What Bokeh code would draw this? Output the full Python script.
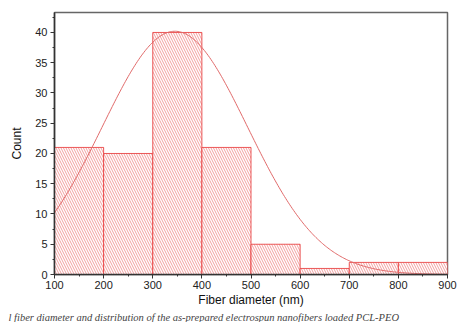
import numpy as np
from bokeh.plotting import figure
from bokeh.models import Range1d, SingleIntervalTicker, Title
from bokeh.embed import file_html
from bokeh.resources import INLINE

# Histogram data
bin_left = [100, 200, 300, 400, 500, 600, 700, 800]
bin_right = [200, 300, 400, 500, 600, 700, 800, 900]
counts = [21, 20, 40, 21, 5, 1, 2, 2]

# Gaussian fit parameters
fit_mean = 345
fit_sigma = 148
fit_amp = 40.2

caption = "l fiber diameter and distribution of the as-prepared electrospun nanofibers loaded PCL-PEO"

p = figure(width=466, height=322, output_backend="svg", toolbar_location=None,
           x_range=Range1d(100, 900), y_range=Range1d(0, 43.3),
           min_border_left=54, min_border_right=19, min_border_top=12, min_border_bottom=0)

p.quad(left=bin_left, right=bin_right, bottom=0, top=counts,
       fill_color="white", line_color="#e83c3c", line_width=1, line_alpha=0.85,
       hatch_pattern="\\", hatch_color="#e85050", hatch_alpha=0.55,
       hatch_scale=5, hatch_weight=1)

xs = np.linspace(100, 900, 300)
ys = fit_amp * np.exp(-(xs - fit_mean) ** 2 / (2 * fit_sigma ** 2))
p.line(xs, ys, line_color="#e06a6a", line_width=1)

p.grid.visible = False
p.outline_line_color = "#666666"
p.outline_line_width = 1.5

p.xaxis.ticker = SingleIntervalTicker(interval=100, num_minor_ticks=2)
p.yaxis.ticker = SingleIntervalTicker(interval=5, num_minor_ticks=2)

for ax in (p.xaxis[0], p.yaxis[0]):
    ax.axis_line_color = "#333333"
    ax.axis_line_width = 1.5
    ax.major_tick_line_color = "#333333"
    ax.minor_tick_line_color = "#333333"
    ax.major_tick_out = 4
    ax.major_tick_in = 0
    ax.minor_tick_out = 2
    ax.minor_tick_in = 0
    ax.major_label_text_font = "Liberation Sans"
    ax.major_label_text_font_size = "11px"
    ax.major_label_text_color = "#222222"
    ax.axis_label_text_font = "Liberation Sans"
    ax.axis_label_text_font_size = "12px"
    ax.axis_label_text_font_style = "normal"
    ax.axis_label_text_color = "#111111"

p.xaxis.major_label_standoff = 2
p.yaxis.major_label_standoff = 3
p.xaxis.axis_label = "Fiber diameter (nm)"
p.yaxis.axis_label = "Count"
p.xaxis.axis_label_standoff = 1
p.yaxis.axis_label_standoff = 8

p.add_layout(Title(text=caption, text_font="Liberation Serif", text_font_style="italic",
                   text_font_size="10.5px", text_color="#444444", align="left",
                   offset=-46, standoff=0), "below")

open("out.html", "w").write(file_html(p, INLINE))
